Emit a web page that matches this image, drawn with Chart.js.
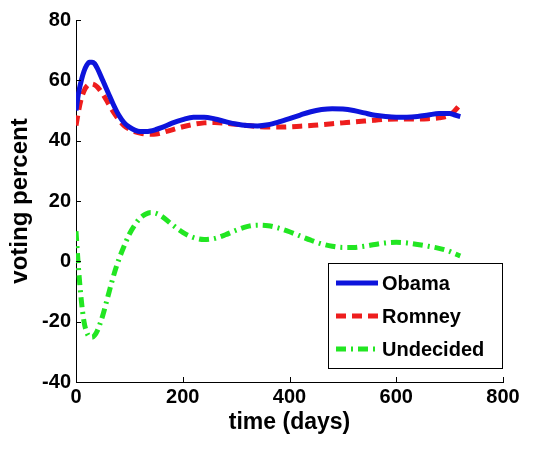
<!DOCTYPE html>
<html>
<head>
<meta charset="utf-8">
<script src="https://cdn.jsdelivr.net/npm/chart.js@4"></script>
<style>
  html, body { margin: 0; padding: 0; background: #fff; }
  #wrap { width: 545px; height: 449px; }
</style>
</head>
<body>
<div id="wrap"><canvas id="voteChart" width="545" height="449"></canvas></div>
<script>
// days since start
const days = [0, 5, 10, 15, 20, 25, 30, 35, 40, 50, 60, 70, 80, 90, 100, 110, 120, 130, 140, 150, 160, 180, 200, 220, 240, 260, 280, 300, 320, 340, 360, 380, 400, 420, 440, 460, 480, 500, 520, 540, 560, 580, 600, 620, 640, 660, 680, 700, 710, 720];

const obama = [50, 56, 60, 63, 65, 66, 66, 65.5, 64, 60, 56, 52, 48.5, 46, 44.5, 43.5, 43, 43, 43.2, 43.7, 44.3, 45.8, 47, 47.8, 47.8, 47.2, 46.3, 45.5, 45, 44.9, 45.3, 46.2, 47.3, 48.5, 49.6, 50.3, 50.6, 50.5, 50, 49.2, 48.4, 48, 47.8, 47.8, 48, 48.5, 49, 49, 48.5, 48];

const romney = [45, 50, 54, 56.5, 58, 58.7, 58.8, 58.5, 57.8, 55.5, 52.5, 49.5, 47, 45, 43.8, 43, 42.5, 42.2, 42.1, 42.2, 42.6, 43.6, 44.6, 45.4, 45.9, 46, 45.8, 45.4, 45, 44.7, 44.5, 44.5, 44.6, 44.8, 45, 45.3, 45.6, 45.9, 46.2, 46.5, 46.8, 47.1, 47.2, 47.2, 47.2, 47.3, 47.6, 48.5, 50, 52];

const undecided = [10, -3, -13, -20, -23.5, -25, -25.2, -24.5, -23, -18, -11.5, -5, 0.5, 5, 9, 12, 14.3, 15.6, 16.2, 15.9, 15, 12.2, 9.6, 7.9, 7.2, 7.6, 8.8, 10.3, 11.5, 12, 11.8, 11, 9.8, 8.4, 7, 5.8, 5, 4.6, 4.6, 5, 5.6, 6.1, 6.3, 6.1, 5.6, 5, 4.3, 3.3, 2.5, 1.8];

const seriesNames = ['Obama', 'Romney', 'Undecided'];
const xTicks = [0, 200, 400, 600, 800];
const yTicks = [-40, -20, 0, 20, 40, 60, 80];

const FONT = '"Liberation Sans", Arial, sans-serif';

function pts(vals) {
    return days.map((d, i) => ({ x: d, y: vals[i] }));
}

// tick marks pointing into the plot, like the original
const innerTicks = {
    id: 'innerTicks',
    afterDatasetsDraw(chart) {
        const { ctx, chartArea: a, scales } = chart;
        ctx.save();
        ctx.strokeStyle = '#000';
        ctx.lineWidth = 1;
        ctx.beginPath();
        xTicks.forEach(v => {
            const px = Math.round(scales.x.getPixelForValue(v)) + 0.5;
            ctx.moveTo(px, a.bottom);
            ctx.lineTo(px, a.bottom - 5);
        });
        yTicks.forEach(v => {
            const py = Math.round(scales.y.getPixelForValue(v)) + 0.5;
            ctx.moveTo(a.left, py);
            ctx.lineTo(a.left + 5, py);
        });
        ctx.stroke();
        ctx.restore();
    }
};

// boxed legend inside the lower right corner
const boxLegend = {
    id: 'boxLegend',
    afterDraw(chart) {
        const ctx = chart.ctx;
        const x0 = 328, y0 = 263, w = 174, h = 105;
        ctx.save();
        ctx.fillStyle = '#fff';
        ctx.fillRect(x0, y0, w, h);
        ctx.strokeStyle = '#000';
        ctx.lineWidth = 1;
        ctx.strokeRect(x0 + 0.5, y0 + 0.5, w, h);
        ctx.font = 'bold 20px ' + FONT;
        ctx.textBaseline = 'middle';
        chart.data.datasets.forEach((ds, i) => {
            const y = y0 + 20 + i * 33;
            ctx.strokeStyle = ds.borderColor;
            ctx.lineWidth = ds.borderWidth;
            ctx.setLineDash(ds.borderDash || []);
            ctx.beginPath();
            ctx.moveTo(x0 + 8, y);
            ctx.lineTo(x0 + 50, y);
            ctx.stroke();
            ctx.setLineDash([]);
            ctx.fillStyle = '#000';
            ctx.fillText(ds.label, x0 + 54, y + 1);
        });
        ctx.restore();
    }
};

new Chart(document.getElementById('voteChart'), {
    type: 'line',
    data: {
        datasets: [
            { label: seriesNames[0], data: pts(obama), borderColor: '#0d14dc', borderWidth: 5 },
            { label: seriesNames[1], data: pts(romney), borderColor: '#ee1d1d', borderWidth: 5, borderDash: [10, 6] },
            { label: seriesNames[2], data: pts(undecided), borderColor: '#22e622', borderWidth: 5, borderDash: [10, 5, 2, 5] }
        ]
    },
    options: {
        responsive: false,
        animation: false,
        elements: {
            point: { radius: 0 },
            line: { tension: 0.4, cubicInterpolationMode: 'monotone', borderCapStyle: 'butt' }
        },
        layout: { padding: { left: 0, top: 20, right: 42, bottom: 0 } },
        plugins: {
            legend: { display: false },
            tooltip: { enabled: false }
        },
        scales: {
            x: {
                type: 'linear',
                min: 0,
                max: 800,
                afterBuildTicks: s => { s.ticks = xTicks.map(v => ({ value: v })); },
                afterFit: s => { s.height = 67; },
                grid: { display: false, drawTicks: false, tickLength: 0 },
                border: { display: true, color: '#000', width: 1 },
                ticks: { color: '#000', padding: 3, font: { family: FONT, size: 20, weight: 'bold' }, maxRotation: 0 },
                title: { display: true, text: 'time (days)', color: '#000', padding: { top: 0, bottom: 13 }, font: { family: FONT, size: 23, weight: 'bold' } }
            },
            y: {
                min: -40,
                max: 80,
                afterBuildTicks: s => { s.ticks = yTicks.map(v => ({ value: v })); },
                afterFit: s => { s.width = 76; },
                grid: { display: false, drawTicks: false, tickLength: 0 },
                border: { display: true, color: '#000', width: 1 },
                ticks: { color: '#000', padding: 5, font: { family: FONT, size: 20, weight: 'bold' } },
                title: { display: true, text: 'voting percent', color: '#000', padding: { top: 6, bottom: 0 }, font: { family: FONT, size: 24, weight: 'bold' } }
            }
        }
    },
    plugins: [innerTicks, boxLegend]
});
</script>
</body>
</html>
